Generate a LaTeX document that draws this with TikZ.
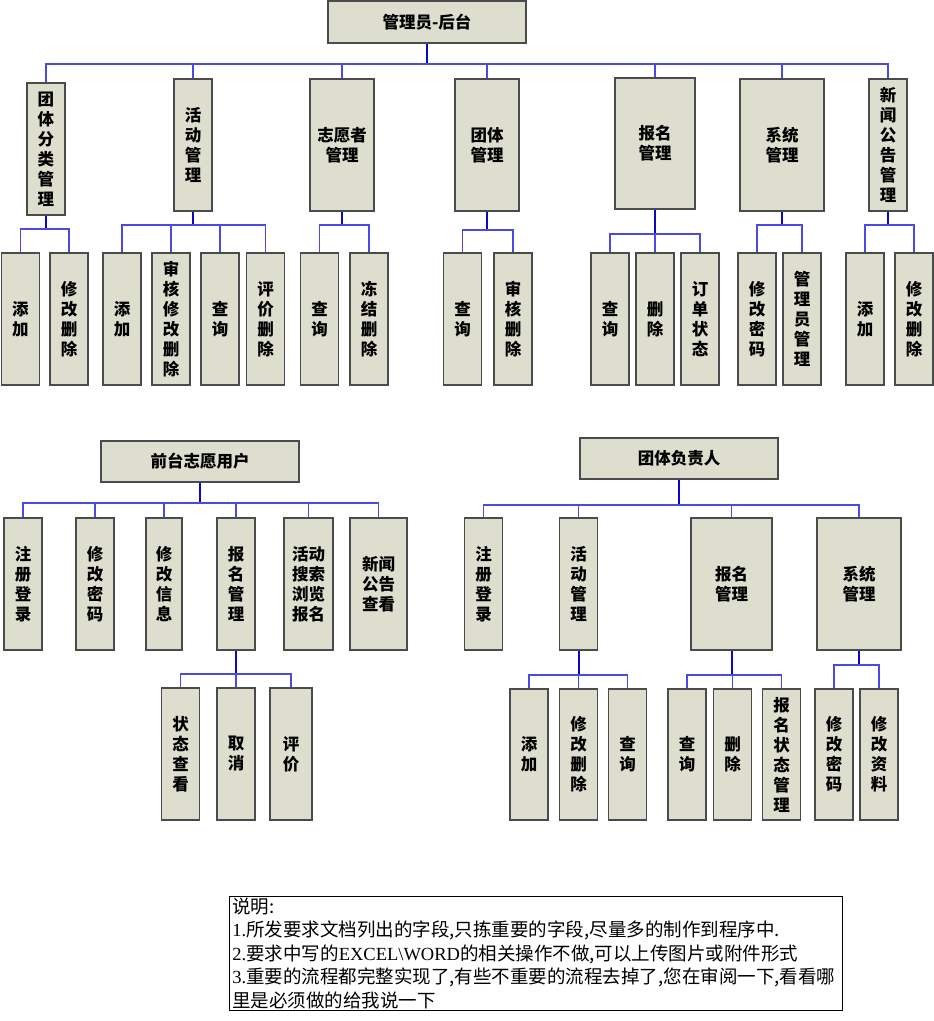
\documentclass[tikz,border=0pt]{standalone}
\usepackage{fontspec}
\setmainfont{Noto Sans CJK SC}
\newfontfamily\lat{Liberation Serif}
\definecolor{boxfill}{RGB}{221,222,205}
\definecolor{boxline}{RGB}{75,75,75}
\definecolor{trunkblue}{RGB}{10,10,195}
\definecolor{branchblue}{RGB}{75,75,225}

\begin{document}
\begin{tikzpicture}[
    x=1pt, y=-1pt,
    box/.style={rectangle, draw=boxline, line width=1.2pt, fill=boxfill, inner sep=0pt, align=center, font=\bfseries\fontsize{16.5}{20}\selectfont},
    head/.style={box, minimum width=198, minimum height=42},
    col/.style={box, minimum width=38, minimum height=132},
    trunk/.style={draw=trunkblue, line width=2pt},
    branch/.style={draw=branchblue, line width=1.4pt},
    note/.style={rectangle, draw=black, line width=0.8pt, anchor=north west, minimum width=613, minimum height=114, inner xsep=3pt, inner ysep=0pt, text width=607, align=left, font=\fontsize{18.5}{23.5}\selectfont}
]
    \useasboundingbox (0,0) rectangle (934,1021);

    \node[head] (admin) at (427,22) {管理员-后台};
    \node[col] (tcat) at (46,149) {团\\体\\分\\类\\管\\理};
    \node[col] (act) at (193,145) {活\\动\\管\\理};
    \node[col, minimum width=64] (vol) at (342,145) {志愿者\\管理};
    \node[col, minimum width=64] (grp) at (487,145) {团体\\管理};
    \node[col, minimum width=80, minimum height=131] (sign) at (655,143.5) {报名\\管理};
    \node[col, minimum width=84] (sys) at (782,145) {系统\\管理};
    \node[col] (news) at (888,145) {新\\闻\\公\\告\\管\\理};

    \node[col] (tcatadd) at (20.5,319) {添\\加};
    \node[col] (tcatedit) at (69,319) {修\\改\\删\\除};
    \node[col] (actadd) at (122,319) {添\\加};
    \node[col] (actaudit) at (171,319) {审\\核\\修\\改\\删\\除};
    \node[col] (actquery) at (220,319) {查\\询};
    \node[col] (actrate) at (265.5,319) {评\\价\\删\\除};
    \node[col] (volquery) at (319.5,319) {查\\询};
    \node[col] (volfreeze) at (369,319) {冻\\结\\删\\除};
    \node[col] (grpquery) at (462.5,319) {查\\询};
    \node[col] (grpaudit) at (513,319) {审\\核\\删\\除};
    \node[col] (signquery) at (610,319) {查\\询};
    \node[col] (signdel) at (655,319) {删\\除};
    \node[col] (signstate) at (700,319) {订\\单\\状\\态};
    \node[col] (syspwd) at (757,319) {修\\改\\密\\码};
    \node[col] (sysadmin) at (802,319) {管\\理\\员\\管\\理};
    \node[col] (newsadd) at (865,319) {添\\加};
    \node[col] (newsedit) at (914,319) {修\\改\\删\\除};

    \coordinate (adminbus) at (427,64);
    \coordinate (tcatbus) at (46,229);
    \coordinate (actbus) at (193,225);
    \coordinate (volbus) at (342,225);
    \coordinate (grpbus) at (487,230);
    \coordinate (signbus) at (655,234);
    \coordinate (sysbus) at (782,225);
    \coordinate (newsbus) at (888,225);

    \draw[trunk] (admin) -- (adminbus);
    \draw[branch] (adminbus) -| (tcat);
    \draw[branch] (adminbus) -| (act);
    \draw[branch] (adminbus) -| (vol);
    \draw[branch] (adminbus) -| (grp);
    \draw[branch] (adminbus) -| (sign);
    \draw[branch] (adminbus) -| (sys);
    \draw[branch] (adminbus) -| (news);

    \draw[trunk] (tcat) -- (tcatbus);
    \draw[branch] (tcatbus) -| (tcatadd);
    \draw[branch] (tcatbus) -| (tcatedit);
    \draw[trunk] (act) -- (actbus);
    \draw[branch] (actbus) -| (actadd);
    \draw[branch] (actbus) -| (actaudit);
    \draw[branch] (actbus) -| (actquery);
    \draw[branch] (actbus) -| (actrate);
    \draw[trunk] (vol) -- (volbus);
    \draw[branch] (volbus) -| (volquery);
    \draw[branch] (volbus) -| (volfreeze);
    \draw[trunk] (grp) -- (grpbus);
    \draw[branch] (grpbus) -| (grpquery);
    \draw[branch] (grpbus) -| (grpaudit);
    \draw[trunk] (sign) -- (signbus);
    \draw[branch] (signbus) -| (signquery);
    \draw[branch] (signbus) -- (signdel);
    \draw[branch] (signbus) -| (signstate);
    \draw[trunk] (sys) -- (sysbus);
    \draw[branch] (sysbus) -| (syspwd);
    \draw[branch] (sysbus) -| (sysadmin);
    \draw[trunk] (news) -- (newsbus);
    \draw[branch] (newsbus) -| (newsadd);
    \draw[branch] (newsbus) -| (newsedit);

    \node[head, minimum height=41] (front) at (200,461.5) {前台志愿用户};
    \node[col] (fregister) at (23,584) {注\\册\\登\\录};
    \node[col] (fpwd) at (95,584) {修\\改\\密\\码};
    \node[col, minimum width=36] (finfo) at (164,584) {修\\改\\信\\息};
    \node[col] (fsign) at (236,584) {报\\名\\管\\理};
    \node[col, minimum width=49] (fbrowse) at (308.5,584) {活动\\搜索\\浏览\\报名};
    \node[col, minimum width=57] (fnews) at (378.5,584) {新闻\\公告\\查看};
    \node[col] (fstate) at (180.5,754) {状\\态\\查\\看};
    \node[col] (fcancel) at (236,754) {取\\消};
    \node[col, minimum width=42] (frate) at (291,754) {评\\价};

    \coordinate (frontbus) at (200,503);
    \coordinate (fsignbus) at (236,674);

    \draw[trunk] (front) -- (frontbus);
    \draw[branch] (frontbus) -| (fregister);
    \draw[branch] (frontbus) -| (fpwd);
    \draw[branch] (frontbus) -| (finfo);
    \draw[branch] (frontbus) -| (fsign);
    \draw[branch] (frontbus) -| (fbrowse);
    \draw[branch] (frontbus) -| (fnews);
    \draw[trunk] (fsign) -- (fsignbus);
    \draw[branch] (fsignbus) -| (fstate);
    \draw[branch] (fsignbus) -- (fcancel);
    \draw[branch] (fsignbus) -| (frate);

    \node[head, minimum height=41] (lead) at (679,458.5) {团体负责人};
    \node[col] (lregister) at (483.5,584) {注\\册\\登\\录};
    \node[col] (lact) at (578.5,584) {活\\动\\管\\理};
    \node[col, minimum width=81] (lsign) at (731.5,584) {报名\\管理};
    \node[col, minimum width=84] (lsys) at (859,584) {系统\\管理};
    \node[col, minimum height=131] (lactadd) at (529,754.5) {添\\加};
    \node[col, minimum height=131] (lactedit) at (578.5,754.5) {修\\改\\删\\除};
    \node[col, minimum height=131] (lactquery) at (627.5,754.5) {查\\询};
    \node[col, minimum height=131] (lsignquery) at (687,754.5) {查\\询};
    \node[col, minimum height=131] (lsigndel) at (732.5,754.5) {删\\除};
    \node[col, minimum height=131] (lsignstate) at (781.5,754.5) {报\\名\\状\\态\\管\\理};
    \node[col, minimum height=131] (lsyspwd) at (834,754.5) {修\\改\\密\\码};
    \node[col, minimum height=131] (lsysinfo) at (879,754.5) {修\\改\\资\\料};

    \coordinate (leadbus) at (679,505);
    \coordinate (lactbus) at (578.5,675);
    \coordinate (lsignbus) at (731.5,675);
    \coordinate (lsysbus) at (859,665);

    \draw[trunk] (lead) -- (leadbus);
    \draw[branch] (leadbus) -| (lregister);
    \draw[branch] (leadbus) -| (lact);
    \draw[branch] (leadbus) -| (lsign);
    \draw[branch] (leadbus) -| (lsys);
    \draw[trunk] (lact) -- (lactbus);
    \draw[branch] (lactbus) -| (lactadd);
    \draw[branch] (lactbus) -- (lactedit);
    \draw[branch] (lactbus) -| (lactquery);
    \draw[trunk] (lsign) -- (lsignbus);
    \draw[branch] (lsignbus) -| (lsignquery);
    \draw[branch] (lsignbus) -| (lsigndel);
    \draw[branch] (lsignbus) -| (lsignstate);
    \draw[trunk] (lsys) -- (lsysbus);
    \draw[branch] (lsysbus) -| (lsyspwd);
    \draw[branch] (lsysbus) -| (lsysinfo);

    \node[note] (notes) at (229,896) {说明:\\
        {\lat 1.}所发要求文档列出的字段,只拣重要的字段,尽量多的制作到程序中.\\
        {\lat 2.}要求中写的{\lat EXCEL\textbackslash WORD}的相关操作不做,可以上传图片或附件形式\\
        {\lat 3.}重要的流程都完整实现了,有些不重要的流程去掉了,您在审阅一下,看看哪\\
        里是必须做的给我说一下};
\end{tikzpicture}
\end{document}
